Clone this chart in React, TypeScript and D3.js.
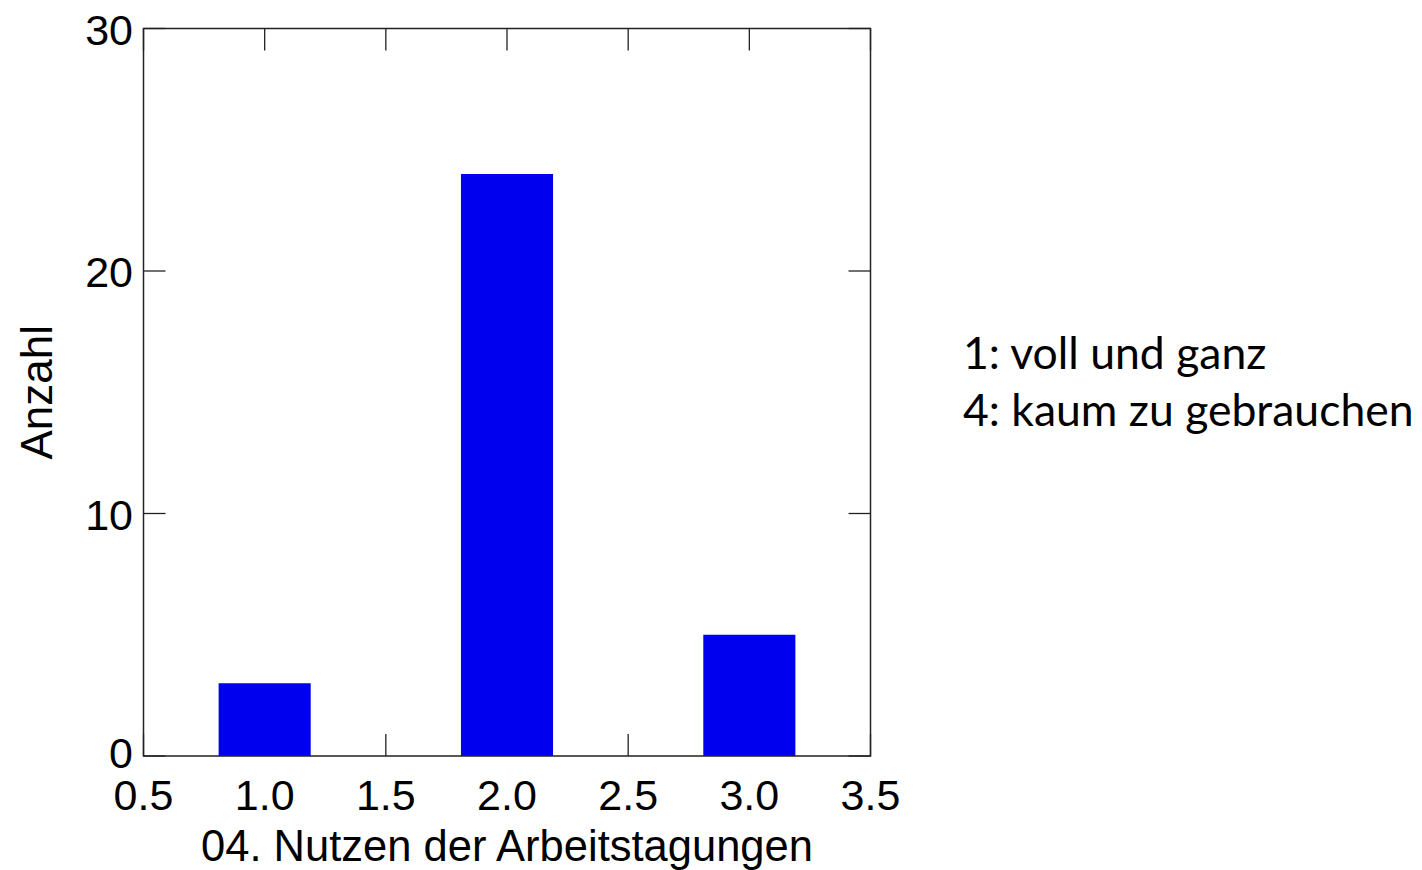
import React from "react";
import * as d3 from "d3";

const categories = [1, 2, 3];
const counts = [3, 24, 5];
const xTicks = [0.5, 1.0, 1.5, 2.0, 2.5, 3.0, 3.5];
const yTicks = [0, 10, 20, 30];
const xLabel = "04. Nutzen der Arbeitstagungen";
const yLabel = "Anzahl";
const notes = ["1: voll und ganz", "4: kaum zu gebrauchen"];

const W = 1422, H = 870;
const L = 143.5, R = 870.5, T = 28.5, B = 756;
const barWidth = 0.38;
const tickLen = 22;

export default function App() {
  const x = d3.scaleLinear().domain([0.5, 3.5]).range([L, R]);
  const y = d3.scaleLinear().domain([0, 30]).range([B, T]);
  const font = "'Liberation Sans', Arial, sans-serif";
  const stroke = "#222";
  return (
    <svg width={W} height={H} style={{ position: "absolute", left: 0, top: 0, background: "#fff" }}>
      {xTicks.map((t) => (
        <g key={"xt" + t}>
          <line x1={x(t)} x2={x(t)} y1={B} y2={B - tickLen} stroke={stroke} strokeWidth={1.3} />
          <line x1={x(t)} x2={x(t)} y1={T} y2={T + tickLen} stroke={stroke} strokeWidth={1.3} />
          <text x={x(t)} y={795} fontFamily={font} fontSize={43} textAnchor="middle" dominantBaseline="central" fill="#000">
            {t.toFixed(1)}
          </text>
        </g>
      ))}
      {yTicks.map((t) => (
        <g key={"yt" + t}>
          <line x1={L} x2={L + tickLen} y1={y(t)} y2={y(t)} stroke={stroke} strokeWidth={1.3} />
          <line x1={R} x2={R - tickLen} y1={y(t)} y2={y(t)} stroke={stroke} strokeWidth={1.3} />
          <text x={133} y={y(t) + (t === 0 ? -3 : 1)} fontFamily={font} fontSize={43} textAnchor="end" dominantBaseline="central" fill="#000">
            {t}
          </text>
        </g>
      ))}
      {categories.map((c, i) => (
        <rect
          key={c}
          x={x(c - barWidth / 2)}
          y={y(counts[i])}
          width={x(c + barWidth / 2) - x(c - barWidth / 2)}
          height={y(0) - y(counts[i])}
          fill="#0000EE"
        />
      ))}
      <rect x={L} y={T} width={R - L} height={B - T} fill="none" stroke={stroke} strokeWidth={1.5} />
      <text x={(L + R) / 2} y={846} fontFamily={font} fontSize={43.5} textAnchor="middle" dominantBaseline="central" fill="#000">
        {xLabel}
      </text>
      <text
        transform={`translate(36, ${(T + B) / 2}) rotate(-90)`}
        fontFamily={font}
        fontSize={44}
        textAnchor="middle"
        dominantBaseline="central"
        fill="#000"
      >
        {yLabel}
      </text>
      {notes.map((n, i) => (
        <text key={n} x={963} y={351 + i * 57} fontFamily="Lato, 'Open Sans', sans-serif" fontSize={44.5} dominantBaseline="central" fill="#000">
          {n}
        </text>
      ))}
    </svg>
  );
}
